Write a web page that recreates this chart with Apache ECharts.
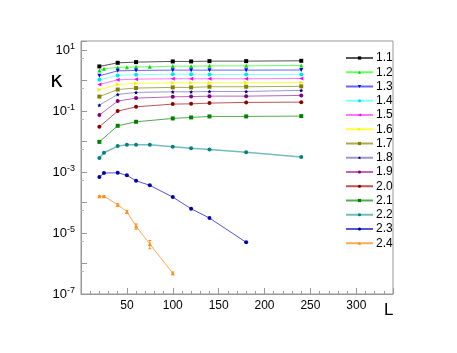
<!DOCTYPE html>
<html>
<head>
<meta charset="utf-8">
<script src="https://cdn.jsdelivr.net/npm/echarts@6/dist/echarts.min.js"></script>
<style>html,body{margin:0;padding:0;background:#fff;}#c{width:457px;height:353px;}</style>
</head>
<body>
<div id="c"></div>
<script>
// x (L) values
const L_std = [20, 40, 60, 100, 120, 140, 180, 240];
const L_ext = [20, 25, 40, 50, 60, 75, 100, 120, 140, 180, 240];
const L_23 = [20, 25, 40, 50, 60, 75, 100, 120, 140, 180];
const L_24 = [20, 25, 40, 50, 60, 75, 100];

// kappa values per series
const k11 = [2.92, 3.84, 4.05, 4.26, 4.26, 4.36, 4.36, 4.47];
const k12 = [2.16, 2.44, 2.71, 2.77, 2.83, 2.83, 2.98, 2.98, 3.05, 3.05, 3.15];
const k13 = [1.44, 2.09, 2.16, 2.21, 2.21, 2.21, 2.21, 2.23];
const k14 = [1.06, 1.48, 1.55, 1.63, 1.63, 1.60, 1.60, 1.60];
const k15 = [0.75, 1.06, 1.12, 1.15, 1.15, 1.15, 1.15, 1.18];
const k16 = [0.50, 0.75, 0.81, 0.85, 0.85, 0.85, 0.85, 0.87];
const k17 = [0.30, 0.51, 0.57, 0.60, 0.60, 0.63, 0.63, 0.65];
const k18 = [0.157, 0.353, 0.41, 0.43, 0.43, 0.44, 0.44, 0.48];
const k19 = [0.074, 0.213, 0.267, 0.294, 0.30, 0.31, 0.31, 0.327];
const k20 = [0.0306, 0.1, 0.138, 0.17, 0.173, 0.183, 0.193, 0.197];
const k21 = [0.0098, 0.033, 0.0446, 0.0575, 0.062, 0.067, 0.067, 0.0686];
const k22 = [0.00288, 0.0043, 0.0071, 0.00785, 0.00785, 0.00785, 0.00676, 0.006, 0.00555, 0.00443, 0.0031];
const k23 = [6.85e-4, 9.27e-4, 9.5e-4, 7.8e-4, 5.19e-4, 3.67e-4, 1.51e-4, 6.26e-5, 3.1e-5, 4.95e-6];
const k24 = [1.6e-4, 1.6e-4, 8.5e-5, 5.0e-5, 1.66e-5, 4.36e-6, 4.8e-7];
// relative error of 2.4 series (fraction)
const e24 = [0.05, 0.05, 0.08, 0.1, 0.2, 0.3, 0.1];

const names = ['1.1','1.2','1.3','1.4','1.5','1.6','1.7','1.8','1.9','2.0','2.1','2.2','2.3','2.4'];
const xs = [L_std, L_ext, L_std, L_std, L_std, L_std, L_std, L_std, L_std, L_std, L_std, L_ext, L_23, L_24];
const ks = [k11, k12, k13, k14, k15, k16, k17, k18, k19, k20, k21, k22, k23, k24];

const styles = [
  {m:'#000000', l:'#555555', s:'rect', r:0},
  {m:'#00dd00', l:'#66ff66', s:'triangle', r:0},
  {m:'#0000ff', l:'#6666ff', s:'triangle', r:180},
  {m:'#00e5e5', l:'#88ffff', s:'circle', r:0},
  {m:'#ff00ff', l:'#ff77ff', s:'triangle', r:90},
  {m:'#f0f000', l:'#ffff44', s:'triangle', r:-90},
  {m:'#808000', l:'#aaaa55', s:'rect', r:0},
  {m:'#000080', l:'#9999cc', s:'path://M0,-10L2.9,-4L9.5,-3L4.7,1.5L5.9,8L0,5L-5.9,8L-4.7,1.5L-9.5,-3L-2.9,-4Z', r:0},
  {m:'#800080', l:'#bb66bb', s:'circle', r:0},
  {m:'#8b0000', l:'#bb5555', s:'circle', r:0},
  {m:'#008000', l:'#55aa55', s:'rect', r:0},
  {m:'#008080', l:'#77bbbb', s:'circle', r:0},
  {m:'#0000aa', l:'#5555cc', s:'circle', r:0},
  {m:'#ff8c1a', l:'#ffaa55', s:'triangle', r:0}
];

const series = names.map((n, i) => ({
  name: n,
  type: 'line',
  data: xs[i].map((x, j) => [x, ks[i][j]]),
  symbol: styles[i].s,
  symbolRotate: styles[i].r,
  symbolSize: 4,
  showSymbol: true,
  itemStyle: {color: styles[i].m},
  lineStyle: {color: styles[i].l, width: i === 11 ? 1.5 : 1},
  emphasis: {disabled: true},
  animation: false
}));

// error bars for 2.4
series.push({
  type: 'custom',
  name: 'err',
  data: L_24.map((x, j) => [x, k24[j] * (1 - e24[j]), k24[j] * (1 + e24[j])]),
  renderItem: function (params, api) {
    const x = api.value(0);
    const lo = api.coord([x, api.value(1)]);
    const hi = api.coord([x, api.value(2)]);
    return {
      type: 'group',
      children: [
        {type: 'line', shape: {x1: lo[0], y1: lo[1], x2: hi[0], y2: hi[1]}, style: {stroke: '#ff8c1a', lineWidth: 1}},
        {type: 'line', shape: {x1: lo[0]-1.5, y1: lo[1], x2: lo[0]+1.5, y2: lo[1]}, style: {stroke: '#ff8c1a', lineWidth: 1}},
        {type: 'line', shape: {x1: hi[0]-1.5, y1: hi[1], x2: hi[0]+1.5, y2: hi[1]}, style: {stroke: '#ff8c1a', lineWidth: 1}}
      ]
    };
  },
  encode: {x: 0, y: [1, 2]},
  z: 4,
  animation: false
});

const font = 'Liberation Sans';
const chart = echarts.init(document.getElementById('c'), null, {renderer: 'canvas'});
chart.setOption({
  backgroundColor: '#fff',
  animation: false,
  grid: {left: 81, top: 41, right: 64, bottom: 59, show: true, borderColor: '#999', borderWidth: 1, containLabel: false},
  legend: {
    data: names,
    orient: 'vertical',
    left: 345,
    top: 52,
    padding: 0,
    itemWidth: 27,
    itemHeight: 4,
    itemGap: 2.25,
    textStyle: {fontFamily: font, fontSize: 12, color: '#000', padding: [0,0,0,-2]},
    selectedMode: false
  },
  xAxis: {
    type: 'value',
    min: 0,
    max: 340,
    interval: 50,
    axisLine: {show: true, lineStyle: {color: '#999'}},
    axisTick: {show: true, inside: true, length: 6, lineStyle: {color: '#999'}},
    minorTick: {show: true, splitNumber: 5, length: 3, lineStyle: {color: '#999'}},
    splitLine: {show: false},
    axisLabel: {
      fontFamily: font, fontSize: 12, color: '#000', margin: 6,
      showMaxLabel: false,
      formatter: v => (v > 0 && v % 50 === 0) ? String(v) : ''
    }
  },
  yAxis: {
    type: 'log',
    logBase: 10,
    min: 1e-7,
    max: Math.pow(10, 1.3),
    interval: 1,
    axisLine: {show: true, lineStyle: {color: '#999'}},
    axisTick: {show: true, inside: true, length: 6, lineStyle: {color: '#999'}},
    minorTick: {show: true, splitNumber: 2, length: 3, lineStyle: {color: '#bbb'}},
    splitLine: {show: false},
    axisLabel: {
      margin: 6,
      showMaxLabel: false,
      formatter: function (v) {
        const e = Math.round(Math.log10(v));
        if (Math.abs(Math.log10(v) - e) > 1e-6 || Math.abs(e % 2) !== 1) return '';
        return '{b|10}{s|' + e + '}';
      },
      rich: {
        b: {fontFamily: font, fontSize: 13, color: '#000'},
        s: {fontFamily: font, fontSize: 9, color: '#000', padding: [0, 0, 7, 0]}
      }
    }
  },
  graphic: [
    {type: 'text', left: 50, top: 70, style: {text: 'κ', fontFamily: 'DejaVu Sans', fontSize: 22, fill: '#000'}},
    {type: 'text', left: 384, top: 302, style: {text: 'L', fontFamily: font, fontSize: 17, fill: '#000'}}
  ],
  series: series
});
</script>
</body>
</html>
